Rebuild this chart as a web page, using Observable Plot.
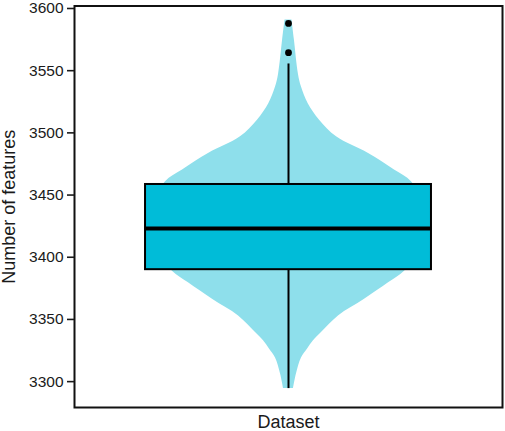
<!DOCTYPE html>
<html>
<head>
<meta charset="utf-8">
<script src="https://cdn.jsdelivr.net/npm/d3@7"></script>
<script src="https://cdn.jsdelivr.net/npm/@observablehq/plot@0.6"></script>
<style>
  html, body { margin: 0; padding: 0; background: #fff; }
</style>
</head>
<body>
<div id="chart"></div>
<script>
// Violin outline: feature count values and relative density (max = 1)
const violinValues  = [3590.8, 3574.4, 3547.2, 3536.8, 3523.4, 3510.2, 3496.8, 3483.4, 3470.2, 3460.8, 3445, 3425, 3405, 3388.8, 3379.4, 3366.2, 3352.8, 3339.4, 3332.8, 3326.2, 3319, 3306.4, 3294.4];
const violinDensity = [0.025, 0.043, 0.072, 0.094, 0.143, 0.225, 0.348, 0.580, 0.768, 0.891, 0.971, 1.000, 0.949, 0.841, 0.725, 0.551, 0.362, 0.239, 0.181, 0.138, 0.094, 0.058, 0.036];

// Box plot statistics
const boxQ1 = 3390.0;
const boxMedian = 3423.1;
const boxQ3 = 3458.5;
const whiskerLow = 3294.4;
const whiskerHigh = 3555.4;
const outliers = [3564.5, 3588.0];

// Axis ticks
const yTicks = [3300, 3350, 3400, 3450, 3500, 3550, 3600];
const categoryLabel = "Dataset";
const yLabel = "Number of features";

const violin = violinValues.map((v, i) => ({v, d: violinDensity[i]}));
const boxHalf = 1.036;

const chart = Plot.plot({
  width: 505,
  height: 431,
  marginLeft: 74,
  marginRight: 3,
  marginTop: 5.5,
  marginBottom: 24,
  style: {fontFamily: "'Liberation Sans', Arial, sans-serif", fontSize: "15px", color: "#1a1a1a", background: "#fff"},
  x: {domain: [-1.5507, 1.5507], axis: null},
  y: {domain: [3279.2, 3602], axis: null},
  marks: [
    Plot.areaX(violin, {y: "v", x1: d => -d.d, x2: d => d.d, fill: "#8EDFEB", curve: "catmull-rom"}),
    Plot.ruleX([0], {y1: whiskerLow, y2: boxQ1, stroke: "#000", strokeWidth: 2}),
    Plot.ruleX([0], {y1: boxQ3, y2: whiskerHigh, stroke: "#000", strokeWidth: 2}),
    Plot.rect([0], {x1: -boxHalf, x2: boxHalf, y1: boxQ1, y2: boxQ3, fill: "#00BCD8", stroke: "#000", strokeWidth: 2}),
    Plot.ruleY([boxMedian], {x1: -boxHalf, x2: boxHalf, stroke: "#000", strokeWidth: 3.8}),
    Plot.dot(outliers, {x: () => 0, y: d => d, r: 3.4, fill: "#000", stroke: null}),
    Plot.frame({stroke: "#111", strokeWidth: 2}),
    Plot.axisY({ticks: yTicks, tickFormat: "d", tickSize: 7, tickPadding: 4, label: null, fontSize: 15.5, strokeWidth: 1.6}),
    Plot.text([categoryLabel], {frameAnchor: "bottom", dy: 15, textAnchor: "middle", lineAnchor: "middle", fontSize: 18}),
    Plot.text([yLabel], {frameAnchor: "left", dx: -65, rotate: -90, textAnchor: "middle", lineAnchor: "middle", fontSize: 18})
  ]
});
document.getElementById("chart").appendChild(chart);
</script>
</body>
</html>
